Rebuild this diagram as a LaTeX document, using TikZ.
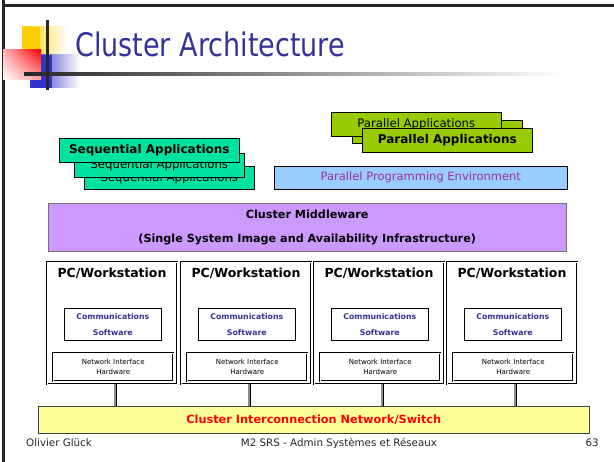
\documentclass[tikz,border=0pt]{standalone}
\usepackage{fontspec}
\setmainfont{DejaVu Sans}
\usetikzlibrary{shadows,shadings}

\definecolor{seqgreen}{RGB}{0,226,160}
\definecolor{pargreen}{RGB}{153,204,0}
\definecolor{envblue}{RGB}{153,204,255}
\definecolor{envtext}{RGB}{153,51,153}
\definecolor{midlilac}{RGB}{204,153,255}
\definecolor{busyellow}{RGB}{255,255,153}
\definecolor{titleblue}{RGB}{51,51,153}
\definecolor{decoyellow}{RGB}{255,204,0}
\definecolor{decoblue}{RGB}{51,51,204}

\tikzset{
  box/.style={inner sep=0pt, anchor=north west},
  appbox/.style={box, draw=black, line width=0.6pt,
    drop shadow={shadow xshift=1pt, shadow yshift=-1pt, fill=black!65, opacity=1}},
  pcbox/.style={box, draw=black, line width=0.5pt, double=white, double distance=1.2pt},
  link/.style={draw=black, line width=0.6pt, double=black!45, double distance=1.6pt},
}

\begin{document}
\begin{tikzpicture}[x=1pt, y=-1pt]
\useasboundingbox (0,0) rectangle (614,462);
\fill[white] (0,0) rectangle (614,462);
% slide frame
\fill[black!85] (2,0) rectangle (5,462);
\fill[black!85] (2,4) rectangle (614,7);
% title decoration
\shade[left color=decoyellow, right color=white] (22,27) rectangle (67,55);
\fill[decoyellow] (22,27) rectangle (40,55);
\shade[left color=decoblue, right color=white] (30,55) rectangle (80,88);
\fill[decoblue] (30,55) rectangle (52,88);
\shade[upper right=red, upper left=red!30, lower right=red!35, lower left=white] (3,50) rectangle (41,80);
\shade[left color=black!85, right color=white] (24,73) rectangle (565,75.5);
\fill[black!85] (45.5,20) rectangle (48.5,90);
\node[anchor=base west, text=titleblue, inner sep=0pt] (title) at (75,57)
  {\scalebox{1}[1.2]{\fontsize{27}{30}\selectfont Cluster Architecture}};

% sequential applications
\node[appbox, fill=seqgreen, minimum width=170, minimum height=23] (seqc) at (84,166)
  {\raisebox{-3pt}{\fontsize{11.7}{13}\selectfont Sequential Applications}};
\node[appbox, fill=seqgreen, minimum width=170, minimum height=24] (seqb) at (74,153)
  {\fontsize{11.7}{13}\selectfont Sequential Applications};
\node[appbox, fill=seqgreen, minimum width=180, minimum height=24] (seqa) at (59,138)
  {\fontsize{12}{13}\selectfont\bfseries Sequential Applications};

% parallel applications
\node[appbox, fill=pargreen, minimum width=170, minimum height=23] (parb) at (352,120) {};
\node[appbox, fill=pargreen, minimum width=170, minimum height=24] (parc) at (331,112)
  {\raisebox{-2pt}{\fontsize{11.7}{13}\selectfont Parallel Applications}};
\node[appbox, fill=pargreen, minimum width=170, minimum height=24] (para) at (362,128)
  {\fontsize{12}{13}\selectfont\bfseries Parallel Applications};

\node[appbox, fill=envblue, minimum width=293, minimum height=23, text=envtext] (env) at (274,166)
  {\fontsize{11.5}{13}\selectfont Parallel Programming Environment};

% middleware
\node[box, draw=black!55, fill=midlilac, minimum width=518, minimum height=48, align=center,
  font=\fontsize{11.2}{24}\selectfont\bfseries] (mid) at (48,203)
  {Cluster Middleware\\(Single System Image and Availability Infrastructure)};

% interconnect
\node[box, draw=black!75, line width=0.6pt, fill=busyellow, minimum width=551, minimum height=27, text=red] (bus) at (38,406)
  {\fontsize{11.3}{13}\selectfont\bfseries Cluster Interconnection Network/Switch};

% nodes of the cluster
\foreach \i/\x in {1/47,2/181,3/314,4/447} {
  \node[pcbox, minimum width=130, minimum height=122] (pc\i) at (\x,262) {};
  \node[inner sep=0pt] (pct\i) at ({\x+65},273) {\fontsize{12.5}{14}\selectfont\bfseries PC/Workstation};
  \node[box, draw=black, line width=0.6pt, minimum width=97, minimum height=32, align=center, text=titleblue,
    font=\fontsize{7.8}{16}\selectfont\bfseries] (com\i) at ({\x+17},308) {Communications\\Software};
  \node[pcbox, line width=0.4pt, double distance=0.8pt, minimum width=120, minimum height=28, align=center,
    font=\fontsize{7}{10}\selectfont] (nih\i) at ({\x+6},353) {Network Interface\\Hardware};
  \draw[link] ([xshift=3pt]pc\i.south) -- ([xshift=3pt]pc\i.south |- bus.north);
}

% footer
\node[anchor=west, inner sep=0pt, text=black!85] (author) at (26,443) {\fontsize{10.3}{12}\selectfont Olivier Glück};
\node[inner sep=0pt, text=black!85] (course) at (339,443) {\fontsize{10.3}{12}\selectfont M2 SRS - Admin Systèmes et Réseaux};
\node[anchor=east, inner sep=0pt, text=black!85] (page) at (599,443) {\fontsize{10.3}{12}\selectfont 63};
\end{tikzpicture}
\end{document}
